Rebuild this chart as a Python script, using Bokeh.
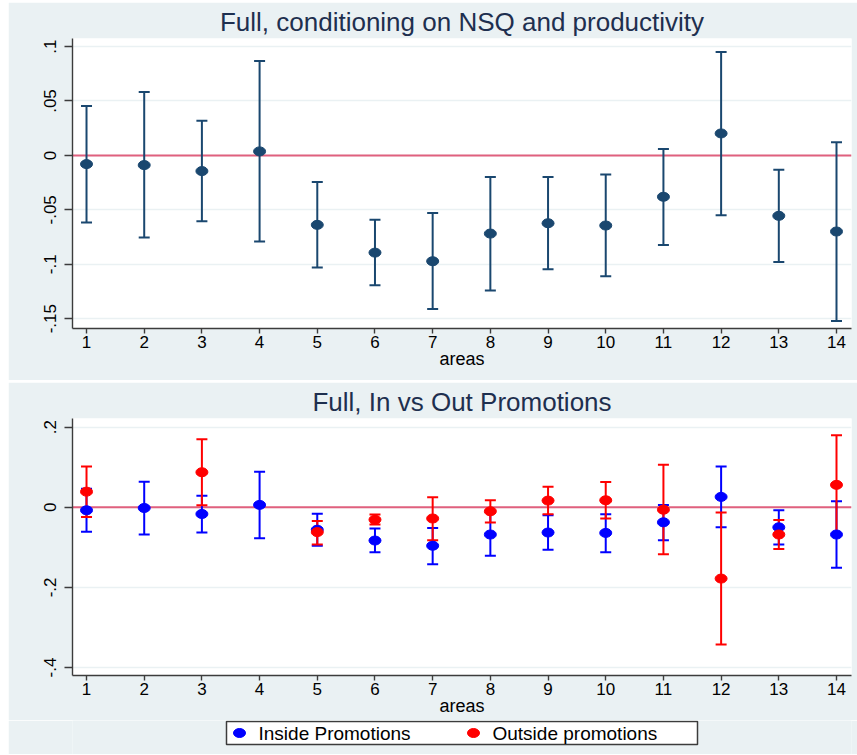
from bokeh.plotting import figure
from bokeh.models import (Whisker, TeeHead, ColumnDataSource, Span, FixedTicker,
                          Range1d)
from bokeh.core.properties import value
from bokeh.layouts import column
from bokeh.embed import file_html
from bokeh.resources import INLINE

# ---------------- data ----------------
areas = [1, 2, 3, 4, 5, 6, 7, 8, 9, 10, 11, 12, 13, 14]

full_coef = [-0.0080, -0.0089, -0.0144, 0.0037, -0.0638, -0.0893, -0.0972,
             -0.0718, -0.0623, -0.0644, -0.0380, 0.0202, -0.0555, -0.0699]
full_hi = [0.0454, 0.0583, 0.0319, 0.0868, -0.0245, -0.0592, -0.0528,
           -0.0199, -0.0199, -0.0175, 0.0058, 0.0951, -0.0132, 0.0120]
full_lo = [-0.0617, -0.0755, -0.0604, -0.0791, -0.1030, -0.1193, -0.1411,
           -0.1240, -0.1046, -0.1110, -0.0822, -0.0549, -0.0979, -0.1521]

in_coef = [-0.0075, -0.0017, -0.0167, 0.0060, -0.0560, -0.0830, -0.0960,
           -0.0680, -0.0630, -0.0640, -0.0375, 0.0260, -0.0500, -0.0680]
in_hi = [0.0460, 0.0640, 0.0290, 0.0890, -0.0160, -0.0530, -0.0520,
         -0.0110, -0.0200, -0.0175, 0.0060, 0.1017, -0.0075, 0.0150]
in_lo = [-0.0610, -0.0680, -0.0630, -0.0775, -0.0960, -0.1125, -0.1420,
         -0.1210, -0.1060, -0.1120, -0.0820, -0.0500, -0.0930, -0.1510]

out_areas = [1, 3, 5, 6, 7, 8, 9, 10, 11, 12, 13, 14]
out_coef = [0.0390, 0.0875, -0.0620, -0.0310, -0.0280, -0.0100, 0.0167,
            0.0175, -0.0060, -0.1780, -0.0680, 0.0560]
out_hi = [0.1017, 0.1700, -0.0340, -0.0180, 0.0250, 0.0175, 0.0510,
          0.0630, 0.1060, -0.0130, -0.0320, 0.1800]
out_lo = [-0.0240, 0.0050, -0.0930, -0.0430, -0.0820, -0.0380, -0.0175,
          -0.0280, -0.1175, -0.3425, -0.1040, -0.0675]

top_yticks = [-0.15, -0.1, -0.05, 0, 0.05, 0.1]
top_ylabels = ["-.15", "-.1", "-.05", "0", ".05", ".1"]
bot_yticks = [-0.4, -0.2, 0, 0.2]
bot_ylabels = ["-.4", "-.2", "0", ".2"]

title_top = "Full, conditioning on NSQ and productivity"
title_bot = "Full, In vs Out Promotions"
xlabel = "areas"
legend_labels = ["Inside Promotions", "Outside promotions"]

# ---------------- style ----------------
BG = "#EAF1F3"
NAVY = "#1A476F"
BLUE = "#0000FF"
RED = "#FF0000"
ZERO = "#E0607E"
AXIS = "#3c3c3c"
FONT = "Liberation Sans"
TITLE_COLOR = "#1E2F4F"


def style(p, yticks, ylabels, title):
    p.title.text = title
    p.title.align = "center"
    p.title.text_font = FONT
    p.title.text_font_size = "26px"
    p.title.text_font_style = "normal"
    p.title.text_color = TITLE_COLOR
    p.title.standoff = 4
    p.xgrid.visible = False
    p.ygrid.grid_line_color = BG
    p.ygrid.grid_line_width = 1.5
    p.ygrid.ticker = FixedTicker(ticks=yticks)
    p.xaxis.ticker = FixedTicker(ticks=areas)
    p.yaxis.ticker = FixedTicker(ticks=yticks)
    p.yaxis.major_label_overrides = {t: l for t, l in zip(yticks, ylabels)}
    p.yaxis.major_label_orientation = "vertical"
    for ax in (p.xaxis, p.yaxis):
        ax.axis_line_color = AXIS
        ax.axis_line_width = 1.4
        ax.major_tick_line_color = AXIS
        ax.major_tick_line_width = 1.4
        ax.minor_tick_line_color = None
        ax.major_tick_in = 0
        ax.major_label_text_font = FONT
        ax.major_label_text_font_size = "17px"
        ax.major_label_text_color = "black"
    p.yaxis.major_tick_out = 8
    p.yaxis.major_label_standoff = 8
    p.xaxis.major_tick_out = 5
    p.xaxis.major_label_standoff = 2
    p.xaxis.axis_label = xlabel
    p.xaxis.axis_label_text_font = FONT
    p.xaxis.axis_label_text_font_size = "18px"
    p.xaxis.axis_label_text_font_style = "normal"
    p.xaxis.axis_label_text_color = "black"
    p.xaxis.axis_label_standoff = -2
    p.add_layout(Span(location=0, dimension="width", line_color=ZERO,
                      line_width=2, level="underlay"))


def bars(p, x, c, hi, lo, color, w=2):
    src = ColumnDataSource(dict(x=x, c=c, hi=hi, lo=lo))
    wk = Whisker(source=src, base="x", upper="hi", lower="lo", dimension="height",
                 line_color=color, line_width=w,
                 upper_head=TeeHead(size=11, line_color=color, line_width=w),
                 lower_head=TeeHead(size=11, line_color=color, line_width=w))
    p.add_layout(wk)
    return src


def dots(p, src, color):
    return p.ellipse(x="x", y="c", width=12, height=9, width_units="screen",
                     height_units="screen", source=src, fill_color=color,
                     line_color=color)


# ---------------- top panel ----------------
p1 = figure(width=849, height=378, output_backend="svg", toolbar_location=None,
            x_range=Range1d(0.757, 14.26), y_range=Range1d(-0.159, 0.1074),
            min_border_left=64, min_border_right=6, min_border_top=36,
            min_border_bottom=52, background_fill_color="white",
            border_fill_color=BG, outline_line_color=None)
style(p1, top_yticks, top_ylabels, title_top)
s1 = bars(p1, areas, full_coef, full_hi, full_lo, NAVY)
dots(p1, s1, NAVY)

# ---------------- bottom panel ----------------
p2 = figure(width=849, height=338, output_backend="svg", toolbar_location=None,
            x_range=Range1d(0.757, 14.26), y_range=Range1d(-0.42, 0.2217),
            min_border_left=64, min_border_right=6, min_border_top=36,
            min_border_bottom=45, background_fill_color="white",
            border_fill_color=BG, outline_line_color=None)
style(p2, bot_yticks, bot_ylabels, title_bot)
sb = bars(p2, areas, in_coef, in_hi, in_lo, BLUE)
sr = bars(p2, out_areas, out_coef, out_hi, out_lo, RED)
dots(p2, sb, BLUE)
dots(p2, sr, RED)

# ---------------- legend strip (drawn in page-pixel coordinates) ----------
p3 = figure(width=849, height=34, output_backend="svg", toolbar_location=None,
            x_range=Range1d(72, 851), y_range=Range1d(754, 720),
            min_border_left=64, min_border_right=6, min_border_top=0,
            min_border_bottom=0, background_fill_color=BG,
            border_fill_color=BG, outline_line_color=None)
p3.axis.visible = False
p3.grid.visible = False
p3.quad(left=[226], right=[697], top=[721], bottom=[744], fill_color="white",
        line_color=AXIS, line_width=1.5)
p3.ellipse(x=[239, 473], y=[732.5, 732.5], width=12, height=9,
           width_units="screen", height_units="screen",
           fill_color=[BLUE, RED], line_color=[BLUE, RED])
p3.text(x=[258, 492], y=[733, 733], text=legend_labels,
        text_font=value(FONT), text_font_size="19px", text_color="black",
        text_baseline="middle", text_align="left")

layout = column(p1, column(p2, p3, spacing=0), spacing=2, margin=(2, 0, 0, 8))
open("out.html", "w").write(file_html(layout, INLINE))
